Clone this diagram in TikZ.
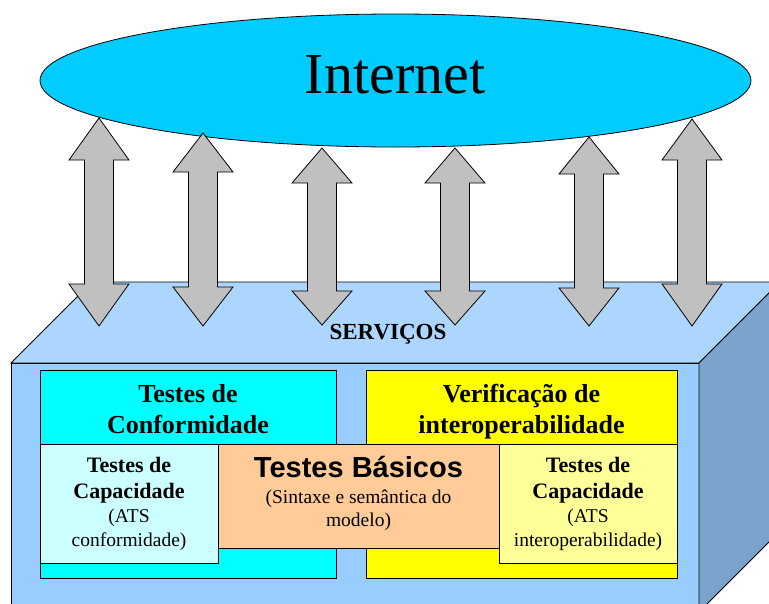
\documentclass[tikz,border=0pt]{standalone}
\usepackage{fontspec}
\setmainfont{Liberation Serif}
\newfontfamily\arialfont{Liberation Sans}
\usetikzlibrary{shapes.geometric}
\definecolor{inetblue}{RGB}{0,204,255}
\definecolor{topface}{RGB}{173,214,255}
\definecolor{frontface}{RGB}{153,204,255}
\definecolor{rightface}{RGB}{122,164,204}
\definecolor{arrowgray}{RGB}{192,192,192}
\definecolor{cyanbox}{RGB}{0,255,255}
\definecolor{yellowbox}{RGB}{255,255,0}
\definecolor{lcyanbox}{RGB}{204,255,255}
\definecolor{lyellowbox}{RGB}{255,255,153}
\definecolor{orangebox}{RGB}{255,204,153}
\newcommand\blockarrow[5]{%
  \filldraw[arrowstyle] (#1,#2) -- (#1+30,#3) -- (#1+14.5,#3) -- (#1+14.5,#4) -- (#1+30,#4) -- (#1,#5) -- (#1-30,#4) -- (#1-14.5,#4) -- (#1-14.5,#3) -- (#1-30,#3) -- cycle;}
\tikzset{
  face/.style={draw=black, line width=0.8pt, line join=miter},
  arrowstyle/.style={fill=arrowgray, draw=black, line width=0.8pt, line join=miter},
  boxstyle/.style={draw=black, line width=0.8pt, inner sep=0pt, rectangle},
  txt/.style={anchor=base, inner sep=0pt},
  bigtitle/.style={txt, font=\fontsize{26}{30}\selectfont\bfseries},
  captitle/.style={txt, font=\fontsize{22}{26}\selectfont\bfseries},
  small/.style={txt, font=\fontsize{19.5}{23}\selectfont},
}
\begin{document}
\begin{tikzpicture}[x=1pt,y=-1pt]
\useasboundingbox (0,0) rectangle (769,603);
\clip (0,0) rectangle (769,603);
% Internet cloud
\node[ellipse, draw=black, line width=0.8pt, fill=inetblue, minimum width=711pt, minimum height=133pt, inner sep=0pt] (internet) at (395.5,80.5) {};
\node[txt, font=\fontsize{58}{62}\selectfont] (internettext) at (395,93) {Internet};
% cube
\filldraw[face, fill=topface] (11,363) -- (92,282) -- (780,282) -- (699,363) -- cycle;
\filldraw[face, fill=frontface] (11,363) -- (699,363) -- (699,612) -- (11,612) -- cycle;
\filldraw[face, fill=rightface] (699,363) -- (780,282) -- (780,531) -- (699,612) -- cycle;
% arrows
\blockarrow{99}{118}{160}{284}{326}
\blockarrow{203}{133}{172}{287}{326}
\blockarrow{322}{148}{183}{291}{325}
\blockarrow{455}{148}{183}{291}{325}
\blockarrow{589}{137}{174}{288}{326}
\blockarrow{692}{119}{160}{284}{326}
\node[txt, font=\fontsize{23}{26}\selectfont\bfseries] (servicos) at (388,339) {SERVIÇOS};
% boxes
\node[boxstyle, fill=cyanbox, minimum width=296pt, minimum height=208pt] (conf) at (188,474) {};
\node[boxstyle, fill=yellowbox, minimum width=311pt, minimum height=208pt] (interop) at (521.5,474) {};
\node[boxstyle, fill=lcyanbox, minimum width=178pt, minimum height=119pt] (capconf) at (129,503.5) {};
\node[boxstyle, fill=lyellowbox, minimum width=178pt, minimum height=119pt] (capint) at (588,503.5) {};
\node[boxstyle, fill=orangebox, minimum width=281pt, minimum height=104pt] (basic) at (358.5,496) {};
% texts
\node[bigtitle] (confa) at (188,402) {Testes de};
\node[bigtitle] (confb) at (188,433) {Conformidade};
\node[bigtitle] (intera) at (521.5,402) {Verificação de};
\node[bigtitle] (interb) at (521.5,433) {interoperabilidade};
\node[captitle] (ccA) at (129,472) {Testes de};
\node[captitle] (ccB) at (129,498) {Capacidade};
\node[small] (ccC) at (129,522) {(ATS};
\node[small] (ccD) at (129,546) {conformidade)};
\node[captitle] (ciA) at (588,472) {Testes de};
\node[captitle] (ciB) at (588,498) {Capacidade};
\node[small] (ciC) at (588,522) {(ATS};
\node[small] (ciD) at (588,546) {interoperabilidade)};
\node[txt, font=\arialfont\fontsize{29}{33}\selectfont\bfseries] (basA) at (358.5,477) {Testes Básicos};
\node[small] (basB) at (358.5,503) {(Sintaxe e semântica do};
\node[small] (basC) at (358.5,526) {modelo)};
\end{tikzpicture}
\end{document}
